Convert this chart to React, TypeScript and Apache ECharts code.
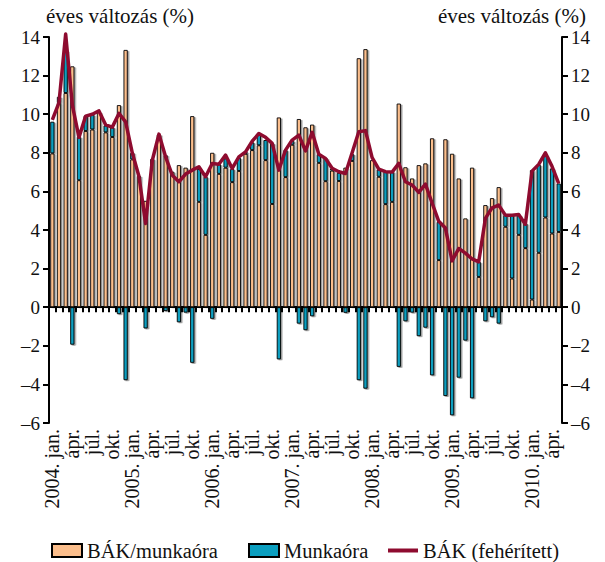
import React, { useEffect, useRef } from "react";
import * as echarts from "echarts";

const years = [2004, 2005, 2006, 2007, 2008, 2009, 2010];
const monthNames = ["jan.", "febr.", "márc.", "ápr.", "máj.", "jún.", "júl.", "aug.", "szept.", "okt.", "nov.", "dec."];
const monthCount = 77; // 2004. jan. – 2010. máj.

// BÁK/munkaóra (annual change, %)
const hourlyEarnings = [
  7.97, 10.58, 11.1, 12.48, 6.58, 9.13, 9.21, 10.11, 9.06, 8.82, 10.47, 13.33,
  7.66, 6.8, 5.51, 7.68, 8.95, 7.88, 7.02, 7.36, 7.23, 9.9, 5.46, 3.75,
  8.0, 6.91, 7.23, 6.48, 7.06, 7.95, 8.14, 8.39, 7.62, 5.35, 9.83, 6.74,
  8.42, 9.75, 9.32, 9.46, 7.48, 6.53, 7.08, 6.54, 7.23, 7.58, 12.9, 13.37,
  7.62, 6.76, 5.34, 5.46, 10.55, 7.25, 6.67, 7.36, 7.45, 8.75, 2.44, 8.7,
  7.95, 6.67, 4.6, 7.23, 1.57, 5.29, 5.65, 6.22, 4.17, 1.49, 3.75, 3.06,
  0.4, 2.82, 4.65, 3.82, 3.9,
];

// Munkaóra (annual change, %)
const hoursWorked = [
  1.64, 0.32, 2.2, -1.94, 2.25, 0.78, 0.77, 0.05, 0.36, 0.5, -0.36, -3.78,
  0.34, 0, -1.1, 0, 0, -0.2, 0, -0.78, -0.28, -2.88, 1.7, 3.01,
  -0.6, 0.5, 0.48, 0.68, 0.68, 0.1, 0.4, 0.55, 1.04, 3.14, -2.7, 1.4,
  0.2, -0.85, -1.19, -0.47, 0.45, 1.2, 0.1, 0.42, -0.29, 0.35, -3.78, -4.22,
  0, 0.38, 1.68, 1.56, -3.09, -0.73, -0.28, -1.5, -1.06, -3.53, 1.98, -4.6,
  -5.6, -3.65, -1.73, -4.72, 0.78, -0.73, -0.52, -0.85, 0.6, 3.28, 1.02, 1.28,
  6.7, 4.56, 3.22, 3.37, 2.51,
];

// BÁK (fehérített)
const earningsAdjusted = [
  9.7, 10.6, 14.15, 10.47, 8.8, 9.9, 10.0, 10.17, 9.45, 9.33, 10.04, 9.6,
  8.0, 6.79, 4.34, 7.6, 8.97, 7.79, 6.84, 6.5, 6.9, 7.1, 7.28, 6.76,
  7.45, 7.41, 7.88, 7.19, 7.79, 8.05, 8.6, 9.0, 8.8, 8.49, 7.1, 8.14,
  8.66, 8.92, 8.1, 9.06, 7.93, 7.71, 7.2, 7.02, 6.93, 8.0, 9.09, 9.15,
  7.75, 7.15, 7.02, 7.0, 7.45, 6.5, 6.33, 5.95, 6.38, 5.4, 4.45, 4.1,
  2.4, 3.04, 2.8, 2.5, 2.35, 4.6, 5.15, 5.29, 4.77, 4.77, 4.8, 4.3,
  7.05, 7.4, 8.0, 7.3, 6.41,
];

const categories: string[] = [];
for (let i = 0; i < monthCount; i++) {
  const y = years[Math.floor(i / 12)];
  const m = i % 12;
  categories.push(m === 0 ? `${y}. ${monthNames[m]}` : monthNames[m]);
}

const FONT = "'Liberation Serif', 'DejaVu Serif', serif";
const ORANGE = "#FBBE8C";
const BLUE = "#0A9EBF";
const RED = "#8E0B2F";

export default function App() {
  const ref = useRef<HTMLDivElement>(null);
  useEffect(() => {
    if (!ref.current) return;
    const chart = echarts.init(ref.current, undefined, { renderer: "svg" });
    const barShadow = {
      shadowColor: "rgba(0,0,0,0.4)",
      shadowBlur: 0,
      shadowOffsetX: 1.5,
      shadowOffsetY: 1,
    };
    const negFmt = (v: number) => (v < 0 ? "–" + Math.abs(v) : String(v));
    const legendBase = {
      top: 535,
      itemWidth: 30,
      itemHeight: 13,
      symbolKeepAspect: true,
      textStyle: { fontFamily: FONT, fontSize: 20.5, color: "#111" },
    };
    chart.setOption({
      animation: false,
      textStyle: { fontFamily: FONT },
      grid: { left: 49, right: 43, top: 37, bottom: 139, containLabel: false },
      legend: [
        { ...legendBase, left: 46, data: [{ name: "BÁK/munkaóra", icon: "rect" }] },
        { ...legendBase, left: 243, data: [{ name: "Munkaóra", icon: "rect" }] },
        {
          ...legendBase,
          left: 383,
          data: [
            {
              name: "BÁK (fehérített)",
              icon: "path://M0,0 H30 V4 H0 Z",
              itemStyle: { color: RED, borderWidth: 0 },
            },
          ],
        },
      ],
      graphic: [
        {
          type: "text",
          left: 46,
          top: 5,
          style: { text: "éves változás (%)", font: `21px ${FONT}`, fill: "#111" },
        },
        {
          type: "text",
          right: 19,
          top: 5,
          style: { text: "éves változás (%)", font: `21px ${FONT}`, fill: "#111" },
        },
      ],
      xAxis: [
        {
          type: "category",
          data: categories,
          position: "bottom",
          axisLine: { onZero: true, lineStyle: { color: "#000", width: 2 } },
          axisTick: { show: true, interval: 0, length: 5, lineStyle: { color: "#000", width: 2 } },
          axisLabel: { show: false },
          splitLine: { show: false },
        },
        {
          type: "category",
          data: categories,
          position: "bottom",
          axisLine: { show: false, onZero: false },
          axisTick: { show: false },
          axisLabel: {
            show: true,
            interval: (index: number) => index % 3 === 0,
            rotate: 90,
            margin: 6,
            fontFamily: FONT,
            fontSize: 20,
            color: "#111",
          },
        },
      ],
      yAxis: [
        {
          type: "value",
          min: -6,
          max: 14,
          interval: 2,
          position: "left",
          axisLine: { show: true, lineStyle: { color: "#000", width: 2 } },
          axisTick: { show: true, length: 6, lineStyle: { color: "#000", width: 2 } },
          axisLabel: { margin: 9, fontFamily: FONT, fontSize: 19, color: "#111", formatter: negFmt },
          splitLine: { show: false },
        },
        {
          type: "value",
          min: -6,
          max: 14,
          interval: 2,
          position: "right",
          axisLine: { show: true, lineStyle: { color: "#000", width: 2 } },
          axisTick: { show: true, length: 6, lineStyle: { color: "#000", width: 2 } },
          axisLabel: { margin: 9, fontFamily: FONT, fontSize: 19, color: "#111", formatter: negFmt },
          splitLine: { show: false },
        },
      ],
      series: [
        {
          name: "BÁK/munkaóra",
          type: "bar",
          stack: "total",
          data: hourlyEarnings,
          barWidth: 4.2,
          itemStyle: { color: ORANGE, borderColor: "#000", borderWidth: 0.9, ...barShadow },
        },
        {
          name: "Munkaóra",
          type: "bar",
          stack: "total",
          data: hoursWorked,
          barWidth: 4.2,
          itemStyle: { color: BLUE, borderColor: "#000", borderWidth: 0.9, ...barShadow },
        },
        {
          name: "BÁK (fehérített)",
          type: "line",
          data: earningsAdjusted,
          symbol: "none",
          clip: false,
          z: 5,
          lineStyle: { color: RED, width: 3.5, join: "round" },
          itemStyle: { color: RED },
        },
      ],
    });
    return () => chart.dispose();
  }, []);
  return (
    <div
      ref={ref}
      style={{ position: "fixed", left: 0, top: 0, width: 605, height: 562, background: "#fff" }}
    />
  );
}
